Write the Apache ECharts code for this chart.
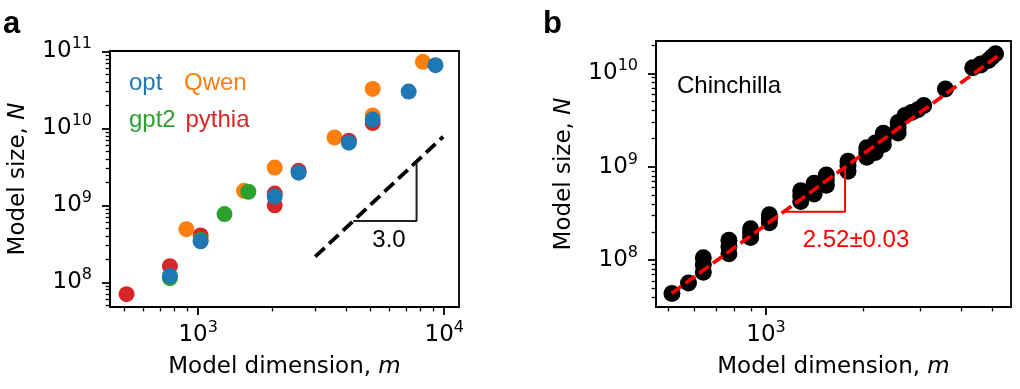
<!DOCTYPE html>
<html><head><meta charset="utf-8">
<script src="https://cdn.jsdelivr.net/npm/echarts@6/dist/echarts.min.js"></script>
<style>html,body{margin:0;padding:0;background:#fff}#c{width:1020px;height:389px}</style>
</head><body><div id="c"></div>
<script>
// ---------- Panel a data: [model dimension m, model size N] ----------
const qwenPts   = [[896,4.9e8],[1536,1.54e9],[2048,3.09e9],[3584,7.6e9],[5120,1.47e10],[5120,3.25e10],[8192,7.3e10]];
const pythiaPts = [[512,7.0e7],[768,1.62e8],[1024,4.05e8],[2048,1.0e9],[2048,1.42e9],[2560,2.8e9],[4096,6.9e9],[5120,1.17e10]];
const gpt2Pts   = [[768,1.13e8],[1024,3.55e8],[1280,7.7e8],[1600,1.5e9]];
const optPts    = [[768,1.21e8],[1024,3.4e8],[2048,1.3e9],[2560,2.65e9],[4096,6.5e9],[5120,1.3e10],[7168,3.0e10],[9216,6.6e10]];
const slopeLineA = [[2990,2.15e8],[9900,7.8e9]];
const slopeTriA  = [[4270,6.25e8],[7720,6.25e8],[7720,3.68e9]];
const slopeTextA = '3.0';
const legendA = ['opt','Qwen','gpt2','pythia'];

// ---------- Panel b data: Chinchilla models ----------
const chinDim = [512,576,640,640,640,768,768,768,896,896,896,1024,1024,1024,
  1280,1280,1408,1280,1408,1536,1408,1536,1536,1792,1792,1792,2048,2176,2048,2048,2176,2304,2176,2304,2304,
  2560,2560,2560,2688,2816,2944,3072,3584,4352,4608,4608,4864,4992,5120];
const chinParams = [4.4e7,5.7e7,7.4e7,9.0e7,1.06e8,1.17e8,1.4e8,1.63e8,1.75e8,1.96e8,2.17e8,2.51e8,2.78e8,3.06e8,
  4.25e8,4.89e8,5.09e8,5.52e8,5.87e8,6.32e8,6.64e8,7.24e8,8.16e8,8.93e8,1.018e9,1.143e9,1.266e9,1.424e9,1.429e9,1.593e9,1.609e9,1.731e9,1.794e9,2.007e9,2.283e9,
  2.298e9,2.639e9,2.98e9,3.53e9,3.802e9,4.084e9,4.516e9,6.796e9,1.1452e10,1.2295e10,1.2569e10,1.3735e10,1.494e10,1.6183e10];
const fitLineB  = [[511,4.41e7],[5295,1.6e10]];
const slopeTriB = [[1134,3.3e8],[1755,3.3e8],[1755,9.9e8]];
const slopeTextB = '2.52±0.03';

// ---------- tick labels (exponents of 10) ----------
const xMajorA = [3,4], yMajorA = [8,9,10,11];
const xMajorB = [3],   yMajorB = [8,9,10];

const L = Math.log10;
const toLog = pts => pts.map(p => [L(p[0]), L(p[1])]);
const chinPts = chinDim.map((d,i) => [d, chinParams[i]]);

function minors(lo, hi){
  const out = [];
  for (let e = Math.floor(lo)-1; e <= Math.ceil(hi); e++)
    for (let k = 2; k <= 9; k++){ const v = e + L(k); if (v > lo && v < hi) out.push(v); }
  return out;
}
const DJ = 'DejaVu Sans', LS = 'Liberation Sans';
const rich = {
  b: {fontFamily: DJ, fontSize: 23, lineHeight: 30, color: '#000'},
  s: {fontFamily: DJ, fontSize: 16, lineHeight: 16, verticalAlign: 'top', color: '#000'}
};
const nameRich = {
  r: {fontFamily: DJ, fontSize: 23, color: '#000'},
  i: {fontFamily: DJ, fontSize: 23, fontStyle: 'italic', color: '#000'}
};
const fmt = v => '{b|10}{s|' + Math.round(v) + '}';

function axisPair(dim, gridIndex, min, max, majors, name){
  const isX = dim === 'x';
  const major = {
    type: 'value', gridIndex, min, max, position: isX ? 'bottom' : 'left',
    axisLine: {show: true, lineStyle: {color: '#000', width: 1.8}},
    axisTick: {show: true, customValues: majors, length: 8, lineStyle: {color: '#000', width: 1.8}},
    axisLabel: {show: true, customValues: majors, formatter: fmt, rich, margin: isX ? 13 : 18},
    splitLine: {show: false},
    name, nameLocation: 'middle', nameGap: isX ? 49 : 80,
    nameTextStyle: {rich: nameRich}
  };
  const minor = {
    type: 'value', gridIndex, min, max, position: isX ? 'bottom' : 'left',
    axisLine: {show: false},
    axisTick: {show: true, customValues: minors(min, max), length: 4.4, lineStyle: {color: '#000', width: 1.3}},
    axisLabel: {show: false}, splitLine: {show: false}
  };
  return [major, minor];
}

const xName = '{r|Model dimension, }{i|m}';
const yName = '{r|Model size, }{i|N}';
const xAxis = [...axisPair('x',0,2.642,4.06,xMajorA,xName), ...axisPair('x',1,2.660,3.757,xMajorB,xName)];
const yAxis = [...axisPair('y',0,7.679,11.004,yMajorA,yName), ...axisPair('y',1,7.498,10.346,yMajorB,yName)];

function scatter(pts, color, ax, z, size){
  return {type: 'scatter', xAxisIndex: ax, yAxisIndex: ax, data: toLog(pts), symbolSize: size || 16,
    itemStyle: {color, opacity: 1}, z, silent: true};
}
function line(pts, color, width, type, ax, z){
  return {type: 'line', xAxisIndex: ax, yAxisIndex: ax, data: toLog(pts), symbol: 'none', showSymbol: false,
    lineStyle: {color, width, type, cap: 'butt'}, z, silent: true};
}

const legendColors = ['#1f77b4','#ff7f0e','#2ca02c','#d62728'];
const legendPos = [[129,83],[184,83],[129,120],[185.5,120]];
function txt(text, x, y, size, color, align, weight){
  return {type: 'text', x, y, silent: true, z: 100,
    style: {text, fill: color, font: (weight||'normal') + ' ' + size + 'px "' + LS + '"', align: align||'left', verticalAlign: 'middle'}};
}
const graphic = [
  txt('a', 3, 24, 31, '#000', 'left', 'bold'),
  txt('b', 543, 24, 31, '#000', 'left', 'bold'),
  ...legendA.map((t,i) => txt(t, legendPos[i][0], legendPos[i][1], 24, legendColors[i])),
  txt(slopeTextA, 389, 240, 24, '#000', 'center'),
  txt('Chinchilla', 677, 86, 24, '#000'),
  txt(slopeTextB, 856, 240, 24, '#ff0000', 'center')
];

const chart = echarts.init(document.getElementById('c'), null, {renderer: 'canvas'});
chart.setOption({
  animation: false,
  backgroundColor: '#fff',
  grid: [
    {left: 110, top: 51, width: 349, height: 256, show: true, borderColor: '#000', borderWidth: 1.8},
    {left: 656, top: 41, width: 355, height: 266, show: true, borderColor: '#000', borderWidth: 1.8}
  ],
  xAxis, yAxis,
  series: [
    scatter(qwenPts, '#ff7f0e', 0, 2),
    scatter(pythiaPts, '#d62728', 0, 3),
    scatter(gpt2Pts, '#2ca02c', 0, 4),
    scatter(optPts, '#1f77b4', 0, 5),
    line(slopeLineA, '#000', 3.8, [13,6], 0, 6),
    line(slopeTriA, '#222', 2, 'solid', 0, 6),
    scatter(chinPts, '#000', 2, 2, 17),
    line(fitLineB, '#ff0000', 3.6, [12,5], 2, 6),
    line(slopeTriB, '#ff0000', 2, 'solid', 2, 6)
  ],
  graphic
});
</script></body></html>
